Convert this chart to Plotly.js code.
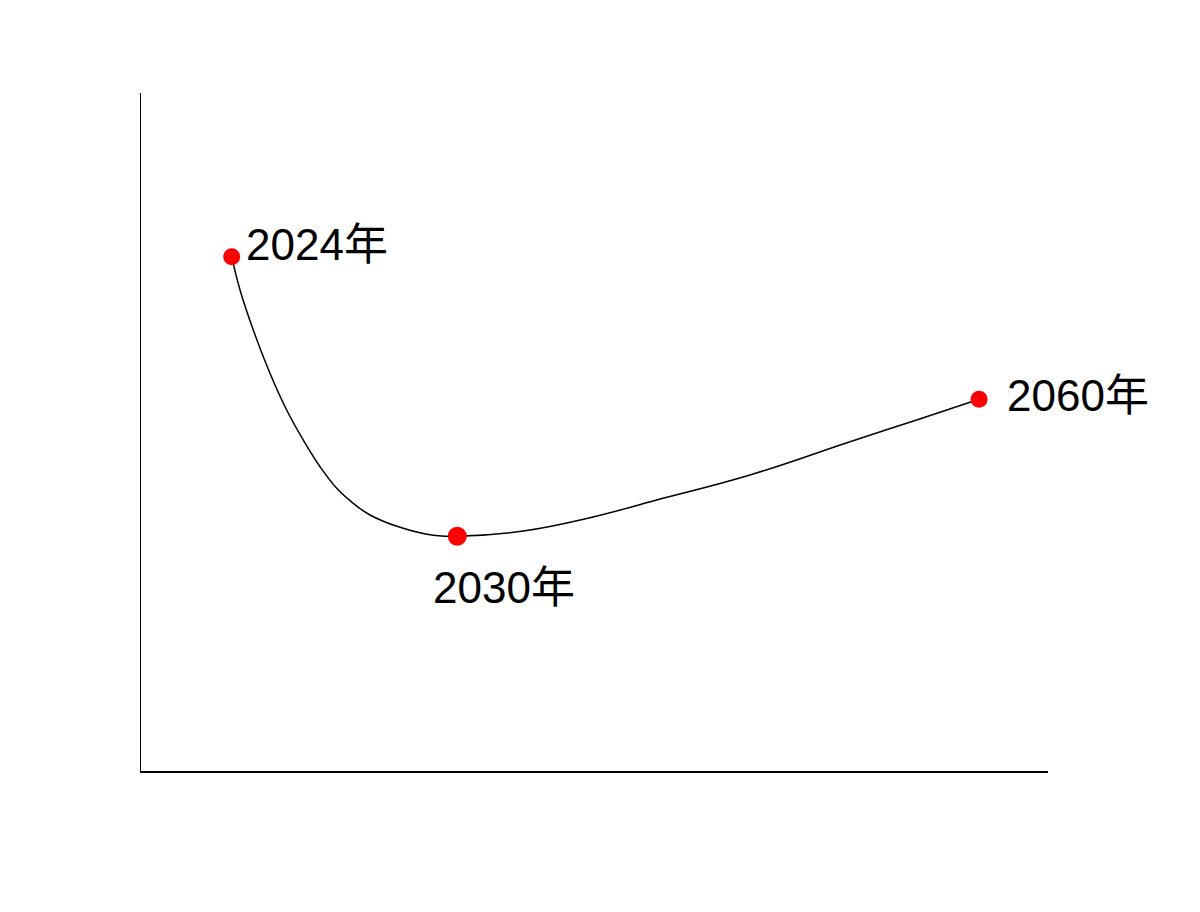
<!DOCTYPE html>
<html>
<head>
<meta charset="utf-8">
<script src="https://cdn.plot.ly/plotly-3.0.1.min.js"></script>
<style>html,body{margin:0;padding:0;background:#fff;}</style>
</head>
<body>
<div id="chart" style="width:1200px;height:912px;"></div>
<script>
// Key points (labelled)
const pointLabels = ["2024年", "2030年", "2060年"];
const pointX = [1.0, 3.487, 9.24];
const pointY = [7.586, 3.462, 5.482];

// Smooth curve samples
const curveX = [1.0, 1.092, 1.238, 1.422, 1.606, 1.789, 1.974, 2.158, 2.341, 2.525, 2.856, 3.222, 3.487,
                4.215, 4.95, 5.686, 6.714, 7.817, 8.552, 9.24];
const curveY = [7.586, 7.094, 6.504, 5.866, 5.324, 4.882, 4.488, 4.17, 3.948, 3.776, 3.594, 3.476, 3.462,
                3.54, 3.736, 3.997, 4.366, 4.857, 5.177, 5.482];

// label offsets in pixels (style)
const labelShift = [[12, 12, 'left'], [-26, -51, 'left'], [26, 4, 'left']];

const traces = [
  {
    x: curveX, y: curveY, mode: 'lines', type: 'scatter',
    line: {color: '#000000', width: 1.5, shape: 'spline', smoothing: 1.2},
    hoverinfo: 'skip', showlegend: false
  },
  {
    x: pointX, y: pointY, mode: 'markers', type: 'scatter',
    opacity: 1,
    marker: {color: '#ff0000', size: [17, 19, 17], opacity: 1, line: {width: 0}},
    showlegend: false
  }
];

const annotations = pointLabels.map((t, i) => ({
  x: pointX[i], y: pointY[i], xref: 'x', yref: 'y',
  text: t, showarrow: false,
  xanchor: labelShift[i][2], yanchor: 'middle',
  xshift: labelShift[i][0], yshift: labelShift[i][1],
  font: {family: 'Liberation Sans, Arial, Noto Sans CJK SC, sans-serif', size: 44, color: '#000000'}
}));

const layout = {
  width: 1200, height: 912,
  margin: {l: 141, r: 152, t: 93, b: 141, pad: 0},
  paper_bgcolor: '#ffffff', plot_bgcolor: '#ffffff',
  showlegend: false,
  xaxis: {range: [0, 10], showline: true, linecolor: '#000000', linewidth: 1.5,
          showgrid: false, zeroline: false, showticklabels: false, ticks: ''},
  yaxis: {range: [0, 10], showline: true, linecolor: '#000000', linewidth: 1.5,
          showgrid: false, zeroline: false, showticklabels: false, ticks: ''},
  annotations: annotations
};

Plotly.newPlot('chart', traces, layout, {staticPlot: true, displayModeBar: false});
</script>
</body>
</html>
